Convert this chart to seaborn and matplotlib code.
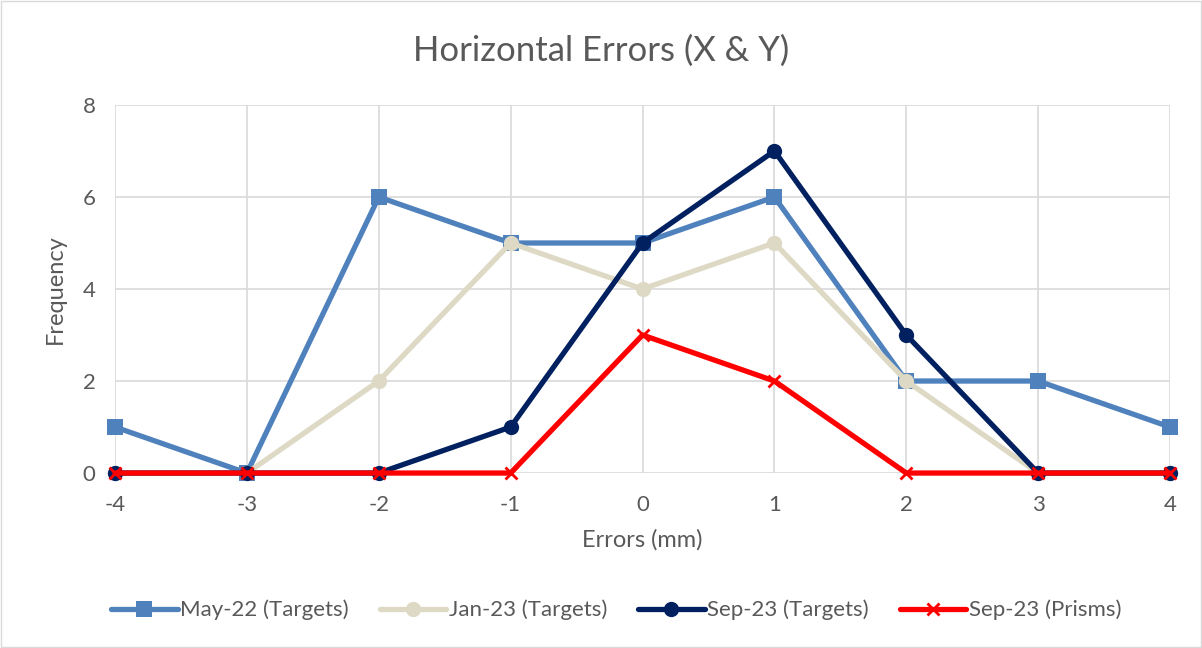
import matplotlib
matplotlib.use("Agg")
import matplotlib.pyplot as plt
import seaborn as sns
import pandas as pd

errors = [-4, -3, -2, -1, 0, 1, 2, 3, 4]
may22_targets = [1, 0, 6, 5, 5, 6, 2, 2, 1]
jan23_targets = [0, 0, 2, 5, 4, 5, 2, 0, 0]
sep23_targets = [0, 0, 0, 1, 5, 7, 3, 0, 0]
sep23_prisms = [0, 0, 0, 0, 3, 2, 0, 0, 0]

series_names = ["May-22 (Targets)", "Jan-23 (Targets)", "Sep-23 (Targets)", "Sep-23 (Prisms)"]
series_vals = [may22_targets, jan23_targets, sep23_targets, sep23_prisms]
colors = ["#4F81BD", "#DDD9C4", "#002060", "#FF0000"]
markers = ["s", "o", "o", "x"]

df = pd.concat([pd.DataFrame({"Errors": errors, "Frequency": v, "Series": n})
                for n, v in zip(series_names, series_vals)])

sns.set_style("whitegrid")
plt.rcParams["font.family"] = ["Lato", "DejaVu Sans"]
plt.rcParams["axes.unicode_minus"] = False
txt = "#595959"

fig = plt.figure(figsize=(12.02, 6.48), dpi=100)
ax = fig.add_axes([0.0957, 0.270, 0.8777, 0.568])

for n, c, m in zip(series_names, colors, markers):
    sub = df[df["Series"] == n]
    sns.lineplot(data=sub, x="Errors", y="Frequency", ax=ax, color=c, linewidth=3.8,
                 marker=m, markersize=11 if m != "x" else 9, markeredgewidth=2 if m == "x" else 0,
                 markeredgecolor=c, label=n, clip_on=False, zorder=3)

ax.set_xlim(-4, 4)
ax.set_ylim(0, 8)
ax.set_xticks(errors)
ax.set_yticks([0, 2, 4, 6, 8])
ax.grid(True, color="#D9D9D9", linewidth=1.2)
for s in ax.spines.values():
    s.set_visible(False)
ax.tick_params(axis="x", labelsize=16, colors=txt, length=0, pad=16)
ax.tick_params(axis="y", labelsize=16, colors=txt, length=0, pad=14)
ax.set_xlabel("Errors (mm)", fontsize=17, color=txt, labelpad=10)
ax.set_ylabel("Frequency", fontsize=17, color=txt, labelpad=12)
ax.set_title("Horizontal Errors (X & Y)", fontsize=25, color=txt, pad=32, x=0.461)

ax.legend(loc="upper center", bbox_to_anchor=(0.475, -0.29), ncol=4, frameon=False,
          fontsize=16, labelcolor=txt, handlelength=3, columnspacing=1.4, handletextpad=0.1)

fig.patches.append(plt.Rectangle((0.001, 0.001), 0.998, 0.998, transform=fig.transFigure,
                                 fill=False, edgecolor="#D9D9D9", linewidth=1))
fig.savefig("out.png", dpi=100)
